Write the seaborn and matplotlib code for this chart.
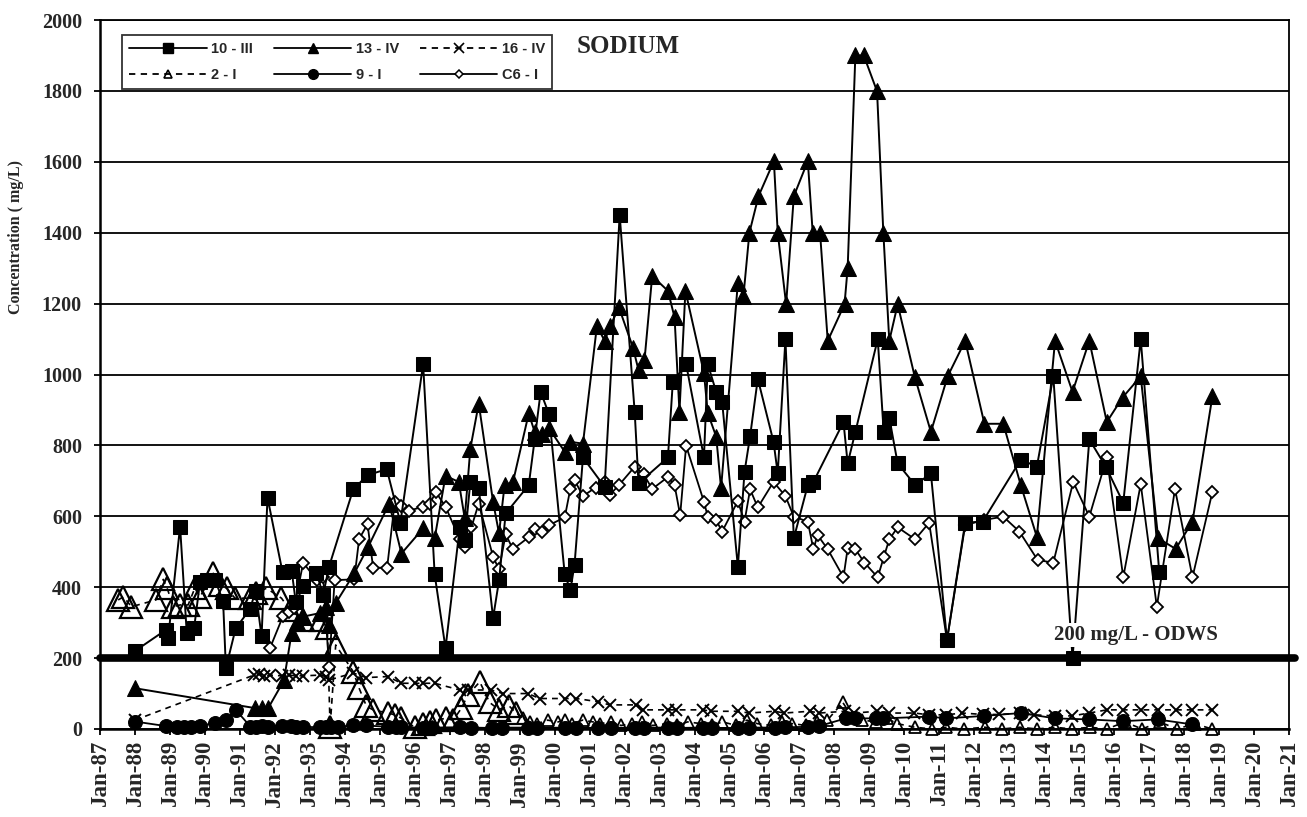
import numpy as np
import pandas as pd
import matplotlib
matplotlib.use("Agg")
import matplotlib.pyplot as plt
from matplotlib.lines import Line2D
import seaborn as sns

# ---- sodium concentrations (mg/L) by well, sample dates as decimal years ----
yr_10_III = [1988.0, 1988.89, 1988.95, 1989.29, 1989.48, 1989.69, 1989.86, 1990.05, 1990.29, 1990.52,
             1990.6, 1990.88, 1991.29, 1991.45, 1991.62, 1991.79, 1992.22, 1992.48, 1992.6, 1992.81,
             1993.19, 1993.38, 1993.55, 1994.24, 1994.65, 1995.2, 1995.59, 1996.24, 1996.57, 1996.88,
             1997.29, 1997.43, 1997.59, 1997.83, 1998.24, 1998.41, 1998.6, 1999.26, 1999.43, 1999.6,
             1999.84, 2000.29, 2000.45, 2000.57, 2000.81, 2001.43, 2001.86, 2002.29, 2002.4, 2003.24,
             2003.38, 2003.76, 2004.27, 2004.38, 2004.62, 2004.79, 2005.24, 2005.43, 2005.59, 2005.81,
             2006.26, 2006.38, 2006.6, 2006.84, 2007.24, 2007.4, 2008.26, 2008.38, 2008.6, 2009.24,
             2009.41, 2009.57, 2009.81, 2010.31, 2010.76, 2011.22, 2011.74, 2012.24, 2013.33, 2013.79,
             2014.26, 2014.81, 2015.29, 2015.76, 2016.26, 2016.76, 2017.29]
na_10_III = [220, 280, 258, 571, 272, 284, 415, 420, 420, 361,
             172, 284, 338, 390, 261, 653, 442, 447, 357, 402,
             441, 378, 458, 676, 716, 733, 582, 1029, 436, 228,
             571, 533, 697, 681, 313, 419, 608, 688, 817, 951,
             888, 436, 392, 464, 766, 683, 1450, 894, 693, 766,
             979, 1029, 766, 1029, 951, 923, 458, 725, 826, 988,
             810, 721, 1100, 538, 688, 697, 866, 749, 838, 1100,
             838, 878, 749, 688, 721, 251, 582, 585, 760, 740,
             995, 200, 817, 740, 638, 1100, 442]

yr_13_IV = [1988.0, 1991.43, 1991.62, 1991.81, 1992.26, 1992.48, 1992.62, 1992.81, 1993.29, 1993.45,
            1993.55, 1993.74, 1994.27, 1994.67, 1995.27, 1995.62, 1996.24, 1996.57, 1996.88, 1997.26,
            1997.43, 1997.59, 1997.83, 1998.24, 1998.41, 1998.57, 1998.81, 1999.26, 1999.43, 1999.64,
            1999.84, 2000.29, 2000.45, 2000.81, 2001.21, 2001.43, 2001.59, 2001.84, 2002.24, 2002.4,
            2002.57, 2002.79, 2003.24, 2003.43, 2003.57, 2003.74, 2004.27, 2004.38, 2004.62, 2004.76,
            2005.24, 2005.4, 2005.57, 2005.83, 2006.27, 2006.38, 2006.62, 2006.84, 2007.24, 2007.38,
            2007.59, 2007.81, 2008.29, 2008.38, 2008.6, 2008.84, 2009.22, 2009.4, 2009.57, 2009.81,
            2010.3, 2010.76, 2011.24, 2011.74, 2012.29, 2012.83, 2013.33, 2013.79, 2014.31, 2014.81,
            2015.29, 2015.79, 2016.24, 2016.76, 2017.26, 2017.76, 2018.24, 2018.81]
na_13_IV = [115, 59, 59, 59, 137, 272, 303, 317, 327, 343,
            294, 355, 439, 514, 636, 495, 566, 538, 714, 697,
            594, 791, 918, 641, 552, 688, 697, 890, 838, 833,
            848, 782, 810, 805, 1137, 1095, 1137, 1189, 1076, 1012,
            1040, 1278, 1236, 1161, 895, 1236, 1004, 891, 825, 679,
            1259, 1222, 1400, 1503, 1602, 1400, 1198, 1503, 1602, 1400,
            1400, 1095, 1198, 1301, 1900, 1900, 1799, 1400, 1095, 1198,
            993, 838, 995, 1095, 861, 861, 688, 542, 1095, 951,
            1095, 866, 935, 995, 538, 508, 585, 939]

yr_16_IV = [1988.0, 1991.4, 1991.55, 1991.7, 1991.85, 1992.2, 1992.4, 1992.6, 1992.8, 1993.3,
            1993.45, 1993.55, 1994.24, 1994.62, 1995.23, 1995.62, 1996.0, 1996.24, 1996.57, 1997.29,
            1997.52, 1998.19, 1998.52, 1999.24, 1999.57, 2000.29, 2000.62, 2001.24, 2001.57, 2002.33,
            2002.52, 2003.24, 2003.48, 2004.24, 2004.48, 2005.24, 2005.57, 2006.29, 2006.57, 2007.29,
            2007.57, 2008.29, 2008.57, 2009.22, 2009.57, 2010.29, 2010.7, 2011.2, 2011.66, 2012.25,
            2012.71, 2013.3, 2013.71, 2014.3, 2014.8, 2015.29, 2015.79, 2016.24, 2016.76, 2017.26,
            2017.76, 2018.24, 2018.81]
na_16_IV = [25, 152, 155, 150, 152, 150, 152, 150, 150, 152,
            148, 138, 158, 145, 148, 129, 129, 129, 129, 110,
            110, 110, 100, 100, 86, 86, 86, 77, 68, 68,
            54, 54, 54, 54, 50, 50, 45, 50, 45, 50,
            45, 50, 45, 50, 45, 45, 40, 40, 45, 41,
            41, 45, 40, 37, 37, 45, 54, 54, 54, 54,
            54, 54, 54]

yr_2_I = [1987.52, 1987.67, 1987.9, 1988.6, 1988.81, 1988.92, 1989.1, 1989.29, 1989.52, 1989.71,
          1989.86, 1990.24, 1990.43, 1990.62, 1990.86, 1991.29, 1991.45, 1991.76, 1992.19, 1992.43,
          1992.81, 1993.33, 1993.5, 1993.58, 1993.74, 1994.24, 1994.41, 1994.62, 1994.81, 1995.23,
          1995.43, 1995.62, 1996.0, 1996.24, 1996.43, 1996.6, 1996.88, 1997.1, 1997.33, 1997.52,
          1997.86, 1998.14, 1998.4, 1998.7, 1998.9, 1999.1, 1999.3, 1999.5, 1999.8, 2000.1,
          2000.3, 2000.5, 2000.8, 2001.1, 2001.3, 2001.6, 2001.9, 2002.2, 2002.5, 2002.8,
          2003.2, 2003.5, 2003.8, 2004.2, 2004.5, 2004.8, 2005.2, 2005.5, 2005.8, 2006.2,
          2006.5, 2006.8, 2007.2, 2007.5, 2007.8, 2008.24, 2008.5, 2008.8, 2009.2, 2009.5,
          2009.8, 2010.3, 2010.8, 2011.2, 2011.7, 2012.3, 2012.8, 2013.3, 2013.8, 2014.3,
          2014.8, 2015.3, 2015.8, 2016.3, 2016.8, 2017.3, 2017.8, 2018.3, 2018.8]
na_2_I = [364, 373, 345, 364, 422, 397, 345, 350, 350, 397,
          373, 439, 406, 397, 369, 369, 383, 397, 369, 336,
          308, 308, 284, 5, 237, 162, 115, 64, 54, 45,
          40, 30, 5, 15, 20, 25, 30, 25, 58, 96,
          133, 75, 55, 65, 45, 30, 20, 15, 25, 20,
          25, 15, 25, 20, 15, 20, 10, 15, 20, 10,
          15, 10, 20, 15, 10, 20, 10, 25, 15, 10,
          20, 15, 10, 20, 25, 75, 35, 25, 20, 30,
          15, 5, 0, 5, 0, 5, 0, 5, 0, 5,
          0, 5, 0, 20, 0, 20, 0, 15, 0]

yr_9_I = [1988.0, 1988.9, 1989.2, 1989.4, 1989.6, 1989.85, 1990.29, 1990.6, 1990.88, 1991.3,
          1991.45, 1991.62, 1991.8, 1992.2, 1992.45, 1992.6, 1992.8, 1993.3, 1993.45, 1993.6,
          1993.8, 1994.24, 1994.62, 1995.23, 1995.45, 1995.62, 1996.24, 1996.5, 1997.3, 1997.6,
          1998.2, 1998.5, 1999.25, 1999.5, 2000.3, 2000.6, 2001.25, 2001.6, 2002.3, 2002.55,
          2003.25, 2003.5, 2004.25, 2004.5, 2005.25, 2005.55, 2006.3, 2006.6, 2007.25, 2007.55,
          2008.33, 2008.6, 2009.2, 2009.4, 2010.71, 2011.2, 2012.29, 2013.33, 2014.31, 2015.29,
          2016.24, 2017.24, 2018.23]
na_9_I = [21, 8, 5, 5, 6, 8, 18, 25, 54, 7,
          6, 8, 7, 9, 8, 7, 6, 5, 5, 6,
          6, 10, 10, 6, 5, 5, 4, 4, 5, 4,
          3, 4, 4, 3, 4, 4, 3, 4, 3, 4,
          4, 3, 4, 3, 3, 4, 4, 5, 6, 8,
          30, 30, 30, 30, 35, 30, 37, 45, 30, 27,
          22, 27, 13]

yr_C6_I = [1991.86, 1992.24, 1992.4, 1992.55, 1992.81, 1993.2, 1993.38, 1993.55, 1993.71, 1994.27,
           1994.41, 1994.65, 1994.81, 1995.21, 1995.43, 1995.62, 1995.84, 1996.24, 1996.43, 1996.6,
           1996.88, 1997.29, 1997.43, 1997.62, 1997.83, 1998.24, 1998.41, 1998.6, 1998.81, 1999.26,
           1999.43, 1999.64, 1999.84, 2000.29, 2000.45, 2000.57, 2000.81, 2001.17, 2001.43, 2001.57,
           2001.84, 2002.29, 2002.55, 2002.79, 2003.24, 2003.43, 2003.59, 2003.76, 2004.27, 2004.38,
           2004.62, 2004.79, 2005.24, 2005.43, 2005.59, 2005.81, 2006.26, 2006.6, 2006.84, 2007.24,
           2007.4, 2007.52, 2007.81, 2008.26, 2008.38, 2008.6, 2008.86, 2009.24, 2009.41, 2009.57,
           2009.81, 2010.31, 2010.71, 2011.22, 2011.74, 2012.29, 2012.83, 2013.29, 2013.81, 2014.26,
           2014.83, 2015.29, 2015.79, 2016.26, 2016.76, 2017.22, 2017.74, 2018.24, 2018.81]
na_C6_I = [228, 320, 330, 340, 469, 420, 430, 175, 420, 422,
           536, 578, 455, 455, 641, 629, 616, 627, 634, 669,
           627, 535, 514, 569, 636, 486, 450, 549, 507, 541,
           563, 557, 575, 597, 678, 702, 657, 681, 697, 660,
           688, 740, 718, 677, 711, 688, 603, 799, 641, 599,
           589, 557, 643, 585, 676, 625, 697, 657, 599, 585,
           507, 547, 507, 428, 510, 507, 469, 428, 484, 535,
           569, 535, 582, 250, 575, 590, 599, 557, 477, 469,
           697, 599, 766, 428, 691, 345, 677, 428, 669]

odws_limit = 200
year_ticks = list(range(1987, 2022))
tick_labels = [f"Jan-{y % 100:02d}" for y in year_ticks]
y_ticks = list(range(0, 2001, 200))

# ---- styling ----
sns.set_theme(style="white")
plt.rcParams['font.family'] = ['Liberation Serif', 'DejaVu Serif']
plt.rcParams['axes.edgecolor'] = 'black'

W, H = 1307, 817
fig = plt.figure(figsize=(W / 100, H / 100), dpi=100)
ax = fig.add_axes([100 / W, 1 - 729 / H, 1189 / W, 709 / H])

DASH = (0, (3.5, 3))


def draw(years, values, **kw):
    df = pd.DataFrame({"year": years, "conc": values})
    kw.setdefault("markeredgecolor", "black")
    sns.lineplot(data=df, x="year", y="conc", ax=ax, estimator=None, sort=False,
                 errorbar=None, legend=False, color="black", clip_on=False, **kw)


# 2-I: dashed line with open triangles (larger symbols for the early record)
draw(yr_2_I, na_2_I, linestyle=DASH, linewidth=1.2, zorder=3)
yr2 = np.array(yr_2_I)
na2 = np.array(na_2_I)
early = yr2 < 1999
draw(yr2[early], na2[early], linestyle="none", marker="^", markersize=16,
     markerfacecolor="none", markeredgewidth=1.6, zorder=3)
draw(yr2[~early], na2[~early], linestyle="none", marker="^", markersize=9,
     markerfacecolor="none", markeredgewidth=1.3, zorder=3)

# 16-IV: dashed line with crosses
draw(yr_16_IV, na_16_IV, linestyle=DASH, linewidth=1.2, marker="x", markersize=9,
     markeredgewidth=1.4, zorder=3)

# 9-I: solid line with filled circles
draw(yr_9_I, na_9_I, linewidth=1.3, marker="o", markersize=10,
     markerfacecolor="black", zorder=4)

# C6-I: solid line with open diamonds
draw(yr_C6_I, na_C6_I, linewidth=1.3, marker="D", markersize=6.5,
     markerfacecolor="white", markeredgewidth=1.3, zorder=4)

# 13-IV: solid line with filled triangles
draw(yr_13_IV, na_13_IV, linewidth=1.4, marker="^", markersize=11,
     markerfacecolor="black", zorder=5)

# 10-III: solid line with filled squares
draw(yr_10_III, na_10_III, linewidth=1.4, marker="s", markersize=10,
     markerfacecolor="black", zorder=6)

# Ontario Drinking Water Standard
ax.axhline(odws_limit, xmin=0, xmax=1.005, color="black", linewidth=5.5,
           clip_on=False, zorder=7)
ax.text(2016.63, 266, "200 mg/L - ODWS", ha="center", va="center",
        fontsize=15, fontweight="bold", zorder=8,
        bbox=dict(facecolor="white", edgecolor="none", pad=1.5))

# axes
ax.set_xlim(1987, 2021)
ax.set_ylim(0, 2000)
ax.set_xticks(year_ticks)
ax.set_xticklabels(tick_labels, rotation=90, fontsize=16.5, fontweight="bold")
ax.set_yticks(y_ticks)
ax.set_yticklabels([str(v) for v in y_ticks], fontsize=14.5, fontweight="bold")
ax.tick_params(axis="both", direction="out", length=4, width=1.3, color="black",
               bottom=True, left=True)
ax.tick_params(axis="x", pad=4)
ax.tick_params(axis="y", pad=9)
ax.yaxis.grid(True, color="black", linewidth=1.3)
ax.xaxis.grid(False)
ax.set_axisbelow(True)
for side in ["left", "bottom"]:
    ax.spines[side].set_linewidth(1.8)
for side in ["top", "right"]:
    ax.spines[side].set_linewidth(1.3)
ax.set_xlabel("")
ax.set_ylabel("")
fig.text(16 / W, 1 - 237 / H, "Concentration ( mg/L)", rotation=90,
         ha="center", va="center", fontsize=11.5, fontweight="bold")

ax.text(0.401, 0.962, "SODIUM", transform=ax.transAxes, ha="left", va="center",
        fontsize=18, fontweight="bold", zorder=9)

# legend
def handle(marker, ls, **kw):
    return Line2D([], [], color="black", linestyle=ls, linewidth=1.3, marker=marker,
                  markeredgecolor="black", **kw)

h_10 = handle("s", "-", markersize=7, markerfacecolor="black")
h_13 = handle("^", "-", markersize=7, markerfacecolor="black")
h_16 = handle("x", DASH, markersize=7, markeredgewidth=1.2)
h_2 = handle("^", DASH, markersize=6, markerfacecolor="none", markeredgewidth=1.2)
h_9 = handle("o", "-", markersize=7, markerfacecolor="black")
h_c6 = handle("D", "-", markersize=4.5, markerfacecolor="white", markeredgewidth=1.1)

leg = ax.legend([h_10, h_2, h_13, h_9, h_16, h_c6],
                ["10 - III", "2 - I", "13 - IV", "9 - I", "16 - IV", "C6 - I"],
                ncol=3, loc="upper left", bbox_to_anchor=(0.0185, 0.979),
                borderaxespad=0, frameon=True, fancybox=False, handlelength=5.3,
                handletextpad=0.3, columnspacing=1.45, labelspacing=0.8,
                borderpad=0.5, prop={"family": ["Liberation Sans", "DejaVu Sans"],
                                     "weight": "bold", "size": 10.5})
leg.get_frame().set_edgecolor("black")
leg.get_frame().set_linewidth(1.3)
leg.set_zorder(10)

fig.savefig("out.png", dpi=100, facecolor="white")
